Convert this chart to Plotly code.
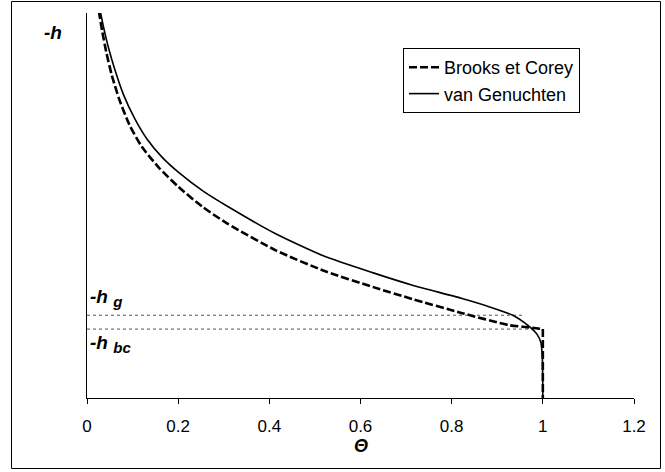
import plotly.graph_objects as go

# Brooks et Corey retention curve
bc_theta = [0.026, 0.033, 0.042, 0.054, 0.071, 0.093, 0.120, 0.158, 0.201, 0.254,
            0.308, 0.415, 0.521, 0.628, 0.714, 0.821, 0.927, 0.965, 1.0, 1.0]
bc_h = [100.5, 95.5, 90.0, 84.0, 77.5, 71.0, 65.3, 59.8, 54.8, 49.6,
        45.3, 38.3, 33.0, 28.8, 25.7, 22.1, 18.9, 18.4, 17.9, 0.0]

# van Genuchten retention curve
vg_theta = [0.029, 0.036, 0.046, 0.060, 0.080, 0.105, 0.132, 0.165, 0.201, 0.254,
            0.308, 0.415, 0.521, 0.628, 0.714, 0.821, 0.885, 0.934, 0.970, 0.987,
            0.996, 0.999, 1.0]
vg_h = [100.5, 96.5, 91.5, 85.7, 78.8, 72.5, 67.2, 62.5, 58.6, 53.8,
        49.8, 42.6, 36.8, 32.5, 29.3, 25.9, 23.6, 21.5, 18.6, 16.6,
        14.3, 10.0, 0.0]

h_g = 21.5
h_bc = 17.9
hg_line_end = 0.955
hbc_line_end = 1.0

x_tickvals = [0, 0.2, 0.4, 0.6, 0.8, 1, 1.2]
x_ticktext = ["0", "0.2", "0.4", "0.6", "0.8", "1", "1.2"]

FONT = "Arial, Liberation Sans, sans-serif"

fig = go.Figure()

# reference dotted lines
fig.add_trace(go.Scatter(x=[0, hg_line_end], y=[h_g, h_g], mode="lines",
                         line=dict(color="#555555", width=1, dash="dot"),
                         showlegend=False, hoverinfo="skip"))
fig.add_trace(go.Scatter(x=[0, hbc_line_end], y=[h_bc, h_bc], mode="lines",
                         line=dict(color="#555555", width=1, dash="dot"),
                         showlegend=False, hoverinfo="skip"))

fig.add_trace(go.Scatter(x=vg_theta, y=vg_h, mode="lines", name="van Genuchten",
                         line=dict(color="black", width=1.6, shape="spline", smoothing=0.6)))
# Brooks et Corey: curved part, then vertical drop at saturation
fig.add_trace(go.Scatter(x=bc_theta[:-1], y=bc_h[:-1], mode="lines", name="Brooks et Corey",
                         legendgroup="bc",
                         line=dict(color="black", width=2.6, dash="8px,3px",
                                   shape="spline", smoothing=0.6)))
fig.add_trace(go.Scatter(x=bc_theta[-2:], y=bc_h[-2:], mode="lines", name="Brooks et Corey",
                         legendgroup="bc", showlegend=False,
                         line=dict(color="black", width=2.6, dash="8px,3px")))

W, H = 665, 472
L, R, T, B = 87, 31, 13, 74
pw, ph = W - L - R, H - T - B


def px(x):
    return (x - L) / pw


def py(y):
    return (H - B - y) / ph


fig.update_layout(
    width=W, height=H,
    margin=dict(l=L, r=R, t=T, b=B),
    plot_bgcolor="white", paper_bgcolor="white",
    font=dict(family=FONT, size=17, color="black"),
    showlegend=True,
    legend=dict(x=px(403), y=py(48), xanchor="left", yanchor="top",
                bgcolor="white", bordercolor="black", borderwidth=1,
                font=dict(size=18), itemwidth=30, traceorder="reversed",
                tracegroupgap=0),
    xaxis=dict(range=[0, 1.2], tickvals=x_tickvals, ticktext=x_ticktext,
               showline=True, linecolor="black", linewidth=1,
               ticks="outside", ticklen=5, tickcolor="black",
               ticklabelstandoff=8,
               showgrid=False, zeroline=False,
               tickfont=dict(size=17)),
    yaxis=dict(range=[0, 100], showline=True, linecolor="black", linewidth=1,
               showticklabels=False, ticks="", showgrid=False, zeroline=False),
    shapes=[dict(type="rect", xref="paper", yref="paper",
                 x0=px(11.5), x1=px(660.5), y0=py(468.5), y1=py(1.5),
                 line=dict(color="black", width=1), fillcolor="rgba(0,0,0,0)",
                 layer="below")],
    annotations=[
        dict(text="<b><i>-h</i></b>", xref="paper", yref="paper",
             x=px(53), y=py(32), showarrow=False, xanchor="center", yanchor="middle",
             font=dict(size=19)),
        dict(text="<b><i>-h\u00a0<sub><span style='font-size:15px'>g</span></sub></i></b>",
             xref="paper", yref="paper",
             x=px(88), y=py(298), showarrow=False, xanchor="left", yanchor="middle",
             font=dict(size=19)),
        dict(text="<b><i>-h\u00a0<sub><span style='font-size:15px'>bc</span></sub></i></b>",
             xref="paper", yref="paper",
             x=px(88), y=py(344), showarrow=False, xanchor="left", yanchor="middle",
             font=dict(size=19)),
        dict(text="<b><i>Θ</i></b>", xref="paper", yref="paper",
             x=0.5, y=py(446), showarrow=False,
             xanchor="center", yanchor="middle", font=dict(size=18)),
    ],
)

fig.write_html("out.html", config={"displayModeBar": False},
               post_script="document.body.style.margin='0';")
